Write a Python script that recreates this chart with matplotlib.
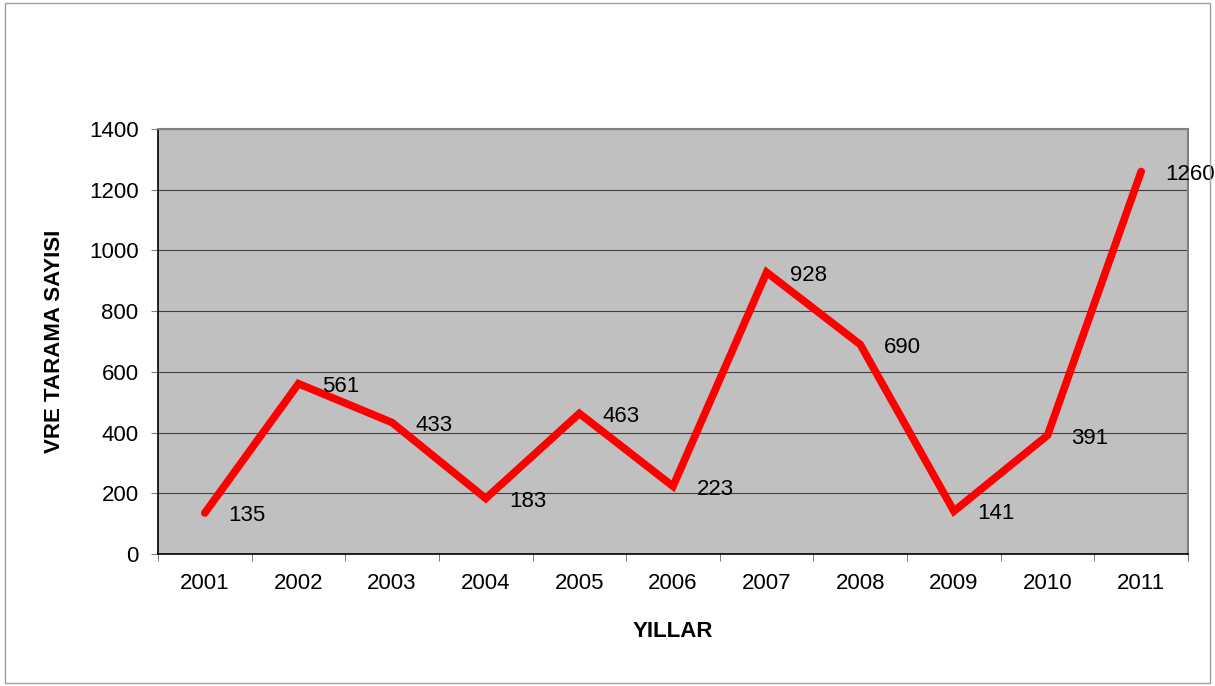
import matplotlib
matplotlib.use("Agg")
import matplotlib.pyplot as plt
from matplotlib.patches import Rectangle

years = ["2001", "2002", "2003", "2004", "2005", "2006", "2007", "2008", "2009", "2010", "2011"]
values = [135, 561, 433, 183, 463, 223, 928, 690, 141, 391, 1260]
y_ticks = [0, 200, 400, 600, 800, 1000, 1200, 1400]

plt.rcParams['font.family'] = ['Liberation Sans', 'DejaVu Sans']
FS = 16

W, H = 1215, 686
fig = plt.figure(figsize=(W / 100, H / 100), dpi=100)
fig.patches.append(Rectangle((5 / W, 3 / H), 1205 / W, 680 / H, transform=fig.transFigure,
                             fill=False, edgecolor='#a0a0a0', linewidth=1))

left, right, top, bottom = 158, 1188, 129, 554
ax = fig.add_axes([left / W, 1 - bottom / H, (right - left) / W, (bottom - top) / H])
ax.set_facecolor('#c0c0c0')

x = list(range(len(years)))
ax.plot(x, values, color='#ff0000', linewidth=5.5, solid_capstyle='round', solid_joinstyle='miter', zorder=3)
for xi, v in zip(x, values):
    ax.annotate(str(v), (xi, v), xytext=(17, -2), textcoords='offset points',
                ha='left', va='center', fontsize=FS, color='black', zorder=4)

ax.set_xlim(-0.5, len(years) - 0.5)
ax.set_ylim(0, 1400)
ax.set_yticks(y_ticks)
ax.set_yticklabels([str(t) for t in y_ticks], fontsize=FS)
ax.yaxis.grid(True, color='#404040', linewidth=0.8)
ax.set_axisbelow(True)

ax.set_xticks(x)
ax.set_xticklabels(years, fontsize=FS)
ax.tick_params(axis='x', length=0, pad=14)
ax.set_xticks([i - 0.5 for i in range(len(years) + 1)], minor=True)
ax.tick_params(axis='x', which='minor', length=5, direction='out', color='#606060')
ax.tick_params(axis='y', length=5, direction='out', color='#808080', pad=9)

for s in ['top', 'right']:
    ax.spines[s].set_color('#808080')
    ax.spines[s].set_linewidth(1.5)
for s in ['left', 'bottom']:
    ax.spines[s].set_color('black')
    ax.spines[s].set_linewidth(1.2)

ax.set_xlabel('YILLAR', fontsize=FS, fontweight='bold', labelpad=19)
ax.set_ylabel('VRE TARAMA SAYISI', fontsize=FS, fontweight='bold', labelpad=17)

fig.savefig('out.png', dpi=100)
